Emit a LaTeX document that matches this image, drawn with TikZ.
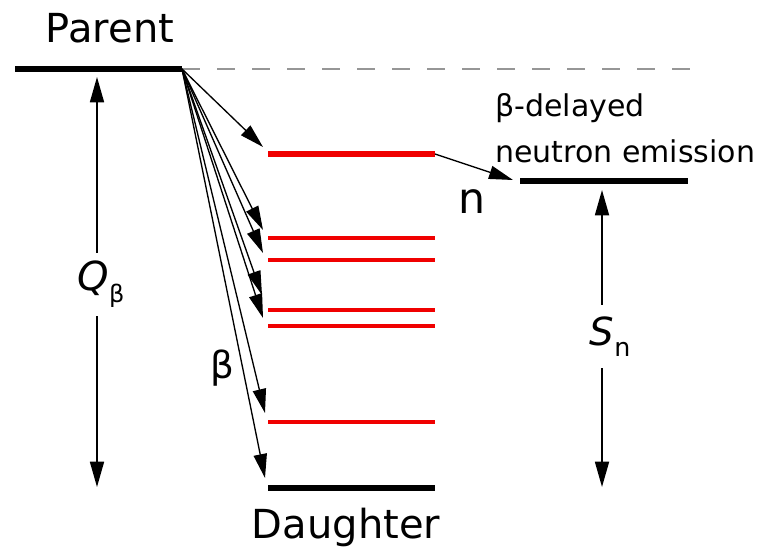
\documentclass[tikz,border=0pt]{standalone}
\usepackage{fontspec}
\setmainfont{DejaVu Sans}
\usetikzlibrary{arrows.meta}
\tikzset{
  blacklevel/.style={line width=4.5pt},
  redthick/.style={line width=4.5pt, draw=levelred},
  redthin/.style={line width=2.3pt, draw=levelred},
  betaarrow/.style={line width=1pt, -{Triangle[length=18pt,width=10pt]}},
  dblarrow/.style={line width=1.3pt, {Triangle[length=19pt,width=10.5pt]}-{Triangle[length=19pt,width=10.5pt]}},
  gaplabel/.style={fill=white, inner sep=1pt, minimum height=47pt},
  bigtext/.style={font=\fontsize{30}{36}\selectfont},
  midtext/.style={font=\fontsize{22.5}{27}\selectfont},
}
\definecolor{levelred}{RGB}{240,0,0}
\definecolor{dashgray}{RGB}{150,150,150}
\begin{document}
\begin{tikzpicture}[x=0.75pt,y=-0.75pt]
\useasboundingbox (0,0) rectangle (767,549);
% coordinates
\coordinate (P1) at (15,69);
\coordinate (P2) at (182,69);
\coordinate (DE) at (690,69);
\coordinate (R0a) at (268,154); \coordinate (R0b) at (435,154);
\coordinate (R1a) at (268,238); \coordinate (R1b) at (435,238);
\coordinate (R2a) at (268,260); \coordinate (R2b) at (435,260);
\coordinate (R3a) at (268,310); \coordinate (R3b) at (435,310);
\coordinate (R4a) at (268,326); \coordinate (R4b) at (435,326);
\coordinate (R5a) at (268,422); \coordinate (R5b) at (435,422);
\coordinate (Ga) at (268,488); \coordinate (Gb) at (435,488);
\coordinate (Na) at (520,181); \coordinate (Nb) at (688,181);
% levels
\draw[dashgray, line width=1.5pt, dash pattern=on 13.5pt off 12.75pt] (P2) -- (DE);
\draw[blacklevel] (P1) -- (P2);
\draw[redthick] (R0a) -- (R0b);
\foreach \i in {1,...,5} {\draw[redthin] (R\i a) -- (R\i b);}
\draw[blacklevel] (Ga) -- (Gb);
\draw[blacklevel] (Na) -- (Nb);
% beta arrows
\coordinate (t1) at (263,147);
\coordinate (t2) at (263,230);
\coordinate (t3) at (263,253);
\coordinate (t4) at (262,295);
\coordinate (t5) at (263,318);
\coordinate (t6) at (265,413);
\coordinate (t7) at (265,478);
\foreach \i in {1,...,7} {\draw[betaarrow] (P2) -- (t\i);}
% neutron arrow
\coordinate (nt) at (513,180);
\draw[betaarrow] (R0b) -- (nt);
% Q arrow
\coordinate (Qt) at (97,77);
\coordinate (Qb) at (97,487);
\draw[dblarrow] (Qt) -- (Qb);
\node[gaplabel] (Q) at (101,284.5) {\fontsize{30}{36}\selectfont\itshape Q\raisebox{-9pt}{\upshape\fontsize{18}{21}\selectfont β}};
% Sn arrow
\coordinate (St) at (602,190);
\coordinate (Sb) at (602,487);
\draw[dblarrow] (St) -- (Sb);
\node[gaplabel] (S) at (610,336.5) {\fontsize{29}{34}\selectfont\itshape S\raisebox{-8pt}{\upshape\fontsize{19}{22}\selectfont n}};
% labels
\node[bigtext, anchor=base, inner sep=0pt] (parent) at (110,43) {Parent};
\node[bigtext, anchor=base, inner sep=0pt] (daughter) at (346,538) {Daughter};
\node[midtext, anchor=base west, inner sep=0pt] (bd1) at (495,117) {β-delayed};
\node[midtext, anchor=base west, inner sep=0pt] (bd2) at (495,162) {neutron emission};
\node[font=\fontsize{32}{38}\selectfont, anchor=base, inner sep=0pt] (nlab) at (472,213) {n};
\node[font=\fontsize{28}{34}\selectfont, anchor=base, inner sep=0pt] (blab) at (222,378) {β};
\end{tikzpicture}
\end{document}
